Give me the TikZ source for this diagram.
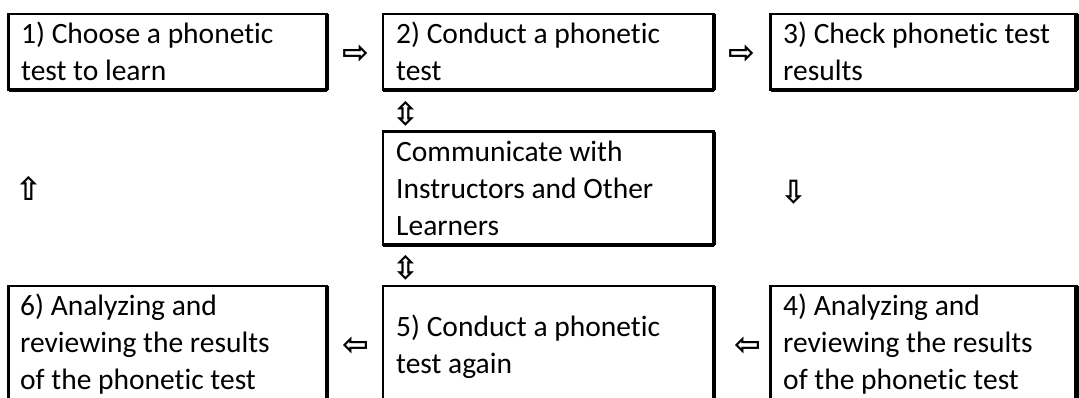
\documentclass[tikz,border=0pt]{standalone}
\usepackage{fontspec}
\setmainfont{Carlito}[Ligatures=NoCommon]
\newfontfamily\symfont{DejaVu Sans Bold}
\begin{document}
\begin{tikzpicture}[x=1pt,y=-1pt,
  box/.style={draw, line width=2.5pt, inner sep=0pt, outer sep=0pt, anchor=north west},
  rthick/.style={line width=4.3pt},
  bthick/.style={line width=3.3pt},
  txt/.style={inner sep=0pt, anchor=north west, align=left, font=\fontsize{29.5}{37}\selectfont},
  sym/.style={inner sep=0pt, font=\symfont\fontsize{32}{32}\selectfont}]
\clip (0,0) rectangle (1079,397);
\fill[white] (0,0) rectangle (1079,397);
% boxes
\node[box, minimum width=318.5pt, minimum height=76.25pt] (b1) at (8.5,13.75) {};
\node[box, minimum width=331pt, minimum height=76.25pt] (b2) at (383,13.75) {};
\node[box, minimum width=306pt, minimum height=76.25pt] (b3) at (770.5,13.75) {};
\node[box, minimum width=331pt, minimum height=113.5pt] (bc) at (383,131.5) {};
\node[box, minimum width=318.5pt, minimum height=140pt] (b6) at (8.5,286) {};
\node[box, minimum width=331pt, minimum height=140pt] (b5) at (383,286) {};
\node[box, minimum width=306pt, minimum height=140pt] (b4) at (770.5,286) {};
\foreach \b in {b1,b2,b3,bc,b6,b5,b4}{
  \draw[rthick] (\b.north east) -- (\b.south east);
  \draw[bthick] (\b.south west) -- (\b.south east);
}
% texts
\node[txt] (t1) at (21,17.1) {\strut 1) Choose a phonetic\\\strut test to learn};
\node[txt] (t2) at (396,17.1) {\strut 2) Conduct a phonetic\\\strut test};
\node[txt] (t3) at (783,17.1) {\strut 3) Check phonetic test\\\strut results};
\node[txt] (tc) at (396,135.6) {\strut Communicate with\\\strut Instructors and Other\\\strut Learners};
\node[txt] (t6) at (20,289.1) {\strut 6) Analyzing and\\\strut reviewing the results\\\strut of the phonetic test};
\node[txt] (t5) at (396,310.6) {\strut 5) Conduct a phonetic\\\strut test again};
\node[txt] (t4) at (783,289.1) {\strut 4) Analyzing and\\\strut reviewing the results\\\strut of the phonetic test};
% arrow glyphs
\node[sym] (a12) at (356,54) {⇨};
\node[sym] (a23) at (742,54) {⇨};
\node[sym] (a2c) at (406,114) {⇳};
\node[sym] (ac5) at (406,268) {⇳};
\node[sym] (a65) at (356,346) {⇦};
\node[sym] (a54) at (748,346) {⇦};
\node[sym] (aup) at (29,188) {⇧};
\node[sym] (adn) at (794,192) {⇩};
\end{tikzpicture}
\end{document}
